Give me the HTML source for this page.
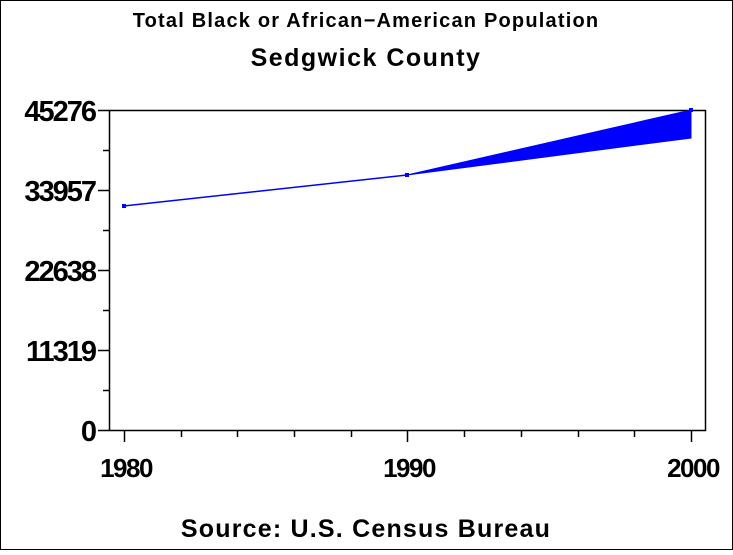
<!DOCTYPE html>
<html><head><style>
html,body{margin:0;padding:0;background:#fff;}
</style></head><body>
<svg width="733" height="550" xmlns="http://www.w3.org/2000/svg" font-family="Liberation Sans, Arial, sans-serif">
<rect x="0.5" y="0.5" width="732" height="549" fill="#fff" stroke="#000"/>
<text x="366" y="27" font-size="20" font-weight="bold" letter-spacing="1.2" text-anchor="middle">Total Black or African−American Population</text>
<text x="366" y="66" font-size="25" font-weight="bold" letter-spacing="1.5" text-anchor="middle">Sedgwick County</text>
<rect x="109.5" y="110.5" width="596" height="320" fill="none" stroke="#000" stroke-width="1.5"/>
<g stroke="#000" stroke-width="1.5">
<line x1="98" y1="110.5" x2="109" y2="110.5"/><line x1="98" y1="190.5" x2="109" y2="190.5"/>
<line x1="98" y1="270.5" x2="109" y2="270.5"/><line x1="98" y1="350.5" x2="109" y2="350.5"/>
<line x1="98" y1="430.5" x2="109" y2="430.5"/>
<line x1="103" y1="150.5" x2="109" y2="150.5"/><line x1="103" y1="230.5" x2="109" y2="230.5"/>
<line x1="103" y1="310.5" x2="109" y2="310.5"/><line x1="103" y1="390.5" x2="109" y2="390.5"/>
<line x1="124.5" y1="430" x2="124.5" y2="442"/><line x1="407.5" y1="430" x2="407.5" y2="442"/><line x1="691.5" y1="430" x2="691.5" y2="442"/>
<line x1="181.5" y1="430" x2="181.5" y2="437"/><line x1="237.5" y1="430" x2="237.5" y2="437"/>
<line x1="294.5" y1="430" x2="294.5" y2="437"/><line x1="351.5" y1="430" x2="351.5" y2="437"/>
<line x1="464.5" y1="430" x2="464.5" y2="437"/><line x1="521.5" y1="430" x2="521.5" y2="437"/>
<line x1="578.5" y1="430" x2="578.5" y2="437"/><line x1="634.5" y1="430" x2="634.5" y2="437"/>
</g>
<g font-size="29" font-weight="bold" text-anchor="end" letter-spacing="-2">
<text x="95" y="121">45276</text><text x="95" y="201">33957</text>
<text x="95" y="281">22638</text><text x="95" y="361">11319</text><text x="95" y="441">0</text>
</g>
<g font-size="26" font-weight="bold" text-anchor="middle" letter-spacing="-1.5">
<text x="126" y="477">1980</text><text x="409" y="477">1990</text><text x="693" y="477">2000</text>
</g>
<polyline points="124,206 407,175" fill="none" stroke="#00f" stroke-width="1.5"/>
<polygon points="407,175 691,110 691,138" fill="#00f" stroke="#00f" stroke-width="1"/>
<rect x="122" y="204" width="4" height="4" fill="#00f"/>
<rect x="405" y="173" width="4" height="4" fill="#00f"/>
<rect x="689" y="108" width="4" height="4" fill="#00f"/>
<text x="366" y="537" font-size="25" font-weight="bold" letter-spacing="1.2" text-anchor="middle">Source: U.S. Census Bureau</text>
</svg>
</body></html>
